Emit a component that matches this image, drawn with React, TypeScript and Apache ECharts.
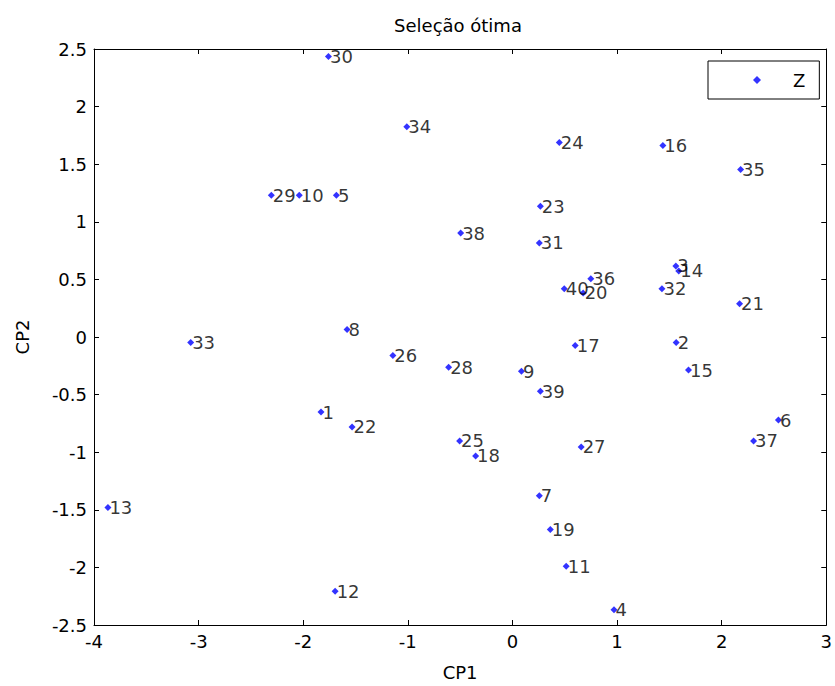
import React, { useEffect, useRef } from "react";
import * as echarts from "echarts";

// Principal component scores (CP1, CP2) for the 40 selected individuals
const ids: string[] = [
  "1", "2", "3", "4", "5", "6", "7", "8", "9", "10",
  "11", "12", "13", "14", "15", "16", "17", "18", "19", "20",
  "21", "22", "23", "24", "25", "26", "27", "28", "29", "30",
  "31", "32", "33", "34", "35", "36", "37", "38", "39", "40",
];
const cp1: number[] = [
  -1.83, 1.565, 1.562, 0.971, -1.683, 2.543, 0.257, -1.581, 0.086, -2.038,
  0.514, -1.695, -3.867, 1.59, 1.683, 1.438, 0.6, -0.352, 0.362, 0.676,
  2.171, -1.533, 0.267, 0.448, -0.505, -1.143, 0.657, -0.61, -2.305, -1.759,
  0.257, 1.429, -3.076, -1.01, 2.181, 0.749, 2.305, -0.495, 0.267, 0.495,
];
const cp2: number[] = [
  -0.652, -0.047, 0.617, -2.368, 1.231, -0.721, -1.377, 0.065, -0.298, 1.231,
  -1.99, -2.206, -1.481, 0.574, -0.287, 1.662, -0.073, -1.032, -1.671, 0.382,
  0.289, -0.781, 1.136, 1.688, -0.902, -0.16, -0.954, -0.263, 1.231, 2.434,
  0.816, 0.419, -0.047, 1.826, 1.455, 0.505, -0.902, 0.902, -0.471, 0.419,
];
const xTicks = { min: -4, max: 3, step: 1 };
const yTicks = { min: -2.5, max: 2.5, step: 0.5 };

const FONT = "'DejaVu Sans', 'Liberation Sans', Arial, sans-serif";
const FS = 18;

export default function App() {
  const ref = useRef<HTMLDivElement>(null);

  useEffect(() => {
    document.documentElement.style.overflow = "hidden";
    document.body.style.margin = "0";
    document.body.style.overflow = "hidden";
    if (!ref.current) return;
    const chart = echarts.init(ref.current, undefined, { renderer: "svg" });

    const points = ids.map((id, i) => ({ name: id, value: [cp1[i], cp2[i]] }));

    // mirrored axes that close the plot box on the top and right sides
    const frameAxis = {
      axisLine: { show: true, onZero: false, lineStyle: { color: "#000", width: 1 } },
      axisTick: { show: true, inside: true, length: 5, lineStyle: { color: "#000" } },
      axisLabel: { show: false },
      splitLine: { show: false },
    };

    chart.setOption({
      animation: false,
      backgroundColor: "#fff",
      textStyle: { fontFamily: FONT },
      title: {
        text: "Seleção ótima",
        left: 453,
        textAlign: "center",
        top: 11,
        textStyle: { fontFamily: FONT, fontSize: FS, fontWeight: "normal", color: "#000" },
      },
      grid: { left: 94, right: 6, top: 49, bottom: 58, containLabel: false },
      legend: {
        left: 708,
        top: 61,
        orient: "horizontal",
        borderColor: "#000",
        borderWidth: 1,
        padding: [10, 14, 10, 45],
        itemWidth: 8,
        itemHeight: 8,
        icon: "diamond",
        data: [{ name: "Z", icon: "diamond" }],
        textStyle: {
          fontFamily: FONT,
          fontSize: FS,
          color: "#000",
          padding: [0, 0, 0, 27],
        },
      },
      xAxis: [
        {
          type: "value",
          min: xTicks.min,
          max: xTicks.max,
          interval: xTicks.step,
          position: "bottom",
          name: "CP1",
          nameLocation: "middle",
          nameGap: 38,
          nameTextStyle: { fontFamily: FONT, fontSize: FS, color: "#000", verticalAlign: "top" },
          axisLine: { show: true, onZero: false, lineStyle: { color: "#000", width: 1 } },
          axisTick: { show: true, inside: true, length: 5, lineStyle: { color: "#000" } },
          axisLabel: { fontFamily: FONT, fontSize: FS, color: "#000", margin: 7 },
          splitLine: { show: false },
        },
        {
          type: "value",
          min: xTicks.min,
          max: xTicks.max,
          interval: xTicks.step,
          position: "top",
          ...frameAxis,
        },
      ],
      yAxis: [
        {
          type: "value",
          min: yTicks.min,
          max: yTicks.max,
          interval: yTicks.step,
          position: "left",
          name: "CP2",
          nameLocation: "middle",
          nameGap: 63,
          nameRotate: 90,
          nameTextStyle: { fontFamily: FONT, fontSize: FS, color: "#000" },
          axisLine: { show: true, onZero: false, lineStyle: { color: "#000", width: 1 } },
          axisTick: { show: true, inside: true, length: 5, lineStyle: { color: "#000" } },
          axisLabel: { fontFamily: FONT, fontSize: FS, color: "#000", margin: 7 },
          splitLine: { show: false },
        },
        {
          type: "value",
          min: yTicks.min,
          max: yTicks.max,
          interval: yTicks.step,
          position: "right",
          ...frameAxis,
        },
      ],
      series: [
        {
          name: "Z",
          type: "scatter",
          symbol: "diamond",
          symbolSize: 7,
          itemStyle: { color: "#0000ff" },
          data: points,
          label: {
            show: true,
            position: "right",
            distance: -2,
            formatter: (p: any) => p.name,
            fontFamily: FONT,
            fontSize: FS,
            color: "#000",
          },
          labelLayout: { hideOverlap: false },
          emphasis: { disabled: true },
        },
      ],
    });

    return () => chart.dispose();
  }, []);

  return (
    <div
      ref={ref}
      style={{ position: "fixed", left: 0, top: 0, width: 835, height: 686, overflow: "hidden" }}
    />
  );
}
